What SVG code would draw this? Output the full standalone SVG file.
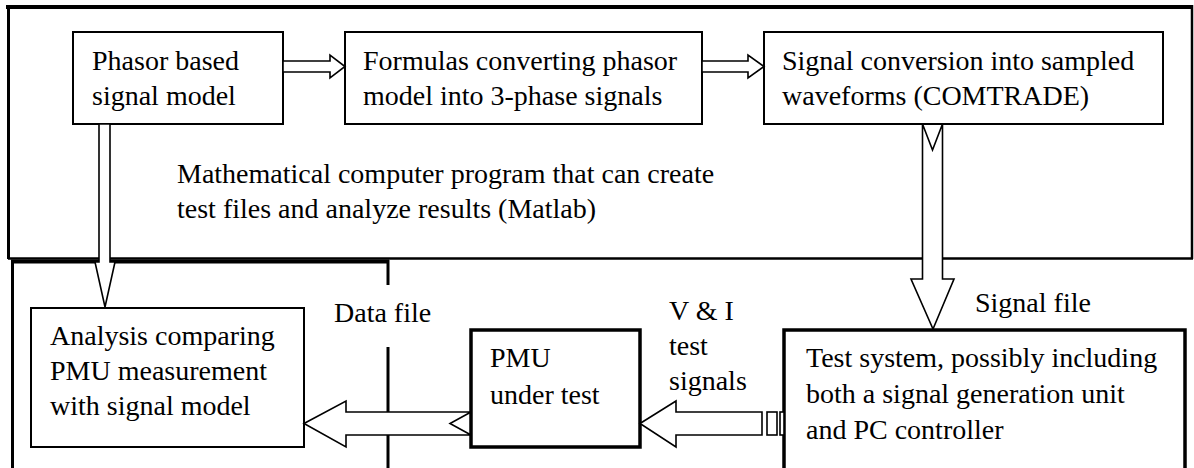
<svg xmlns="http://www.w3.org/2000/svg" width="1194" height="468" viewBox="0 0 1194 468">
<style>
text{font-family:"Liberation Serif","Times New Roman",serif;font-size:28px;fill:#000}
.box{fill:#fff;stroke:#000;stroke-width:2}
.tbox{fill:#fff;stroke:#000;stroke-width:3.5}
.arr{fill:#fff;stroke:#000;stroke-width:1.6;stroke-linejoin:miter}
.fr{stroke:#000;fill:none}
</style>
<rect width="1194" height="468" fill="#fff"/>
<g id="frames">
<line class="fr" x1="6" y1="7" x2="1193" y2="7" stroke-width="4"/>
<line class="fr" x1="8.5" y1="5" x2="8.5" y2="259" stroke-width="3"/>
<line class="fr" x1="1192" y1="5" x2="1192" y2="259" stroke-width="2.5"/>
<line class="fr" x1="8" y1="258.5" x2="1193" y2="258.5" stroke-width="2.5"/>
<line class="fr" x1="11" y1="261.5" x2="389" y2="261.5" stroke-width="4"/>
<line class="fr" x1="12.5" y1="260" x2="12.5" y2="468" stroke-width="3"/>
<line class="fr" x1="388" y1="260" x2="388" y2="285" stroke-width="3"/>
<line class="fr" x1="388" y1="347" x2="388" y2="468" stroke-width="3"/>
</g>
<g id="node-phasor">
<rect class="box" x="73" y="32" width="210" height="92"/>
<text x="92" y="70">Phasor based</text>
<text x="92" y="105">signal model</text>
</g>
<g id="node-formulas">
<rect class="box" x="345" y="32" width="357" height="92"/>
<text x="363" y="70">Formulas converting phasor</text>
<text x="363" y="105">model into 3-phase signals</text>
</g>
<g id="node-conversion">
<rect class="box" x="764" y="32" width="399" height="92"/>
<text x="782" y="70">Signal conversion into sampled</text>
<text x="782" y="105">waveforms (COMTRADE)</text>
</g>
<g id="node-analysis">
<rect class="box" x="31" y="308" width="273" height="139"/>
<text x="50" y="345">Analysis comparing</text>
<text x="50" y="380">PMU measurement</text>
<text x="50" y="415">with signal model</text>
</g>
<g id="node-pmu">
<rect class="tbox" x="471" y="330" width="169" height="117"/>
<text x="490" y="367">PMU</text>
<text x="490" y="404">under test</text>
</g>
<g id="node-testsystem">
<rect class="tbox" x="784" y="330" width="401" height="150"/>
<text x="806" y="367">Test system, possibly including</text>
<text x="806" y="403">both a signal generation unit</text>
<text x="806" y="439">and PC controller</text>
</g>
<g id="connectors">
<polygon class="arr" points="283,61 330,61 330,55 345,66.5 330,78 330,72 283,72"/>
<polygon class="arr" points="702,61 748,61 748,55 764,66.5 748,78 748,72 702,72"/>
<polygon class="arr" points="99,124 110,124 110,262 115,262 105,307 95,262 99,262"/>
<polygon class="arr" points="922.5,124 932.5,150 942.5,124 942.5,279 954,279 933,329 911,279 922.5,279"/>
<polygon class="arr" points="304,423.5 346,401 346,412 471,412 450,423.5 471,435 346,435 346,447"/>
<polygon class="arr" points="640,423.5 676,401 676,412 762,412 762,435 676,435 676,447"/>
<rect class="arr" x="767" y="412" width="10" height="23"/>
<rect class="arr" x="780" y="412" width="4" height="23"/>
</g>
<g id="labels">
<text x="177" y="183">Mathematical computer program that can create</text>
<text x="177" y="218">test files and analyze results (Matlab)</text>
<text x="334" y="322">Data file</text>
<text x="669" y="320">V &amp; I</text>
<text x="669" y="355">test</text>
<text x="669" y="390">signals</text>
<text x="975" y="312">Signal file</text>
</g>
</svg>
